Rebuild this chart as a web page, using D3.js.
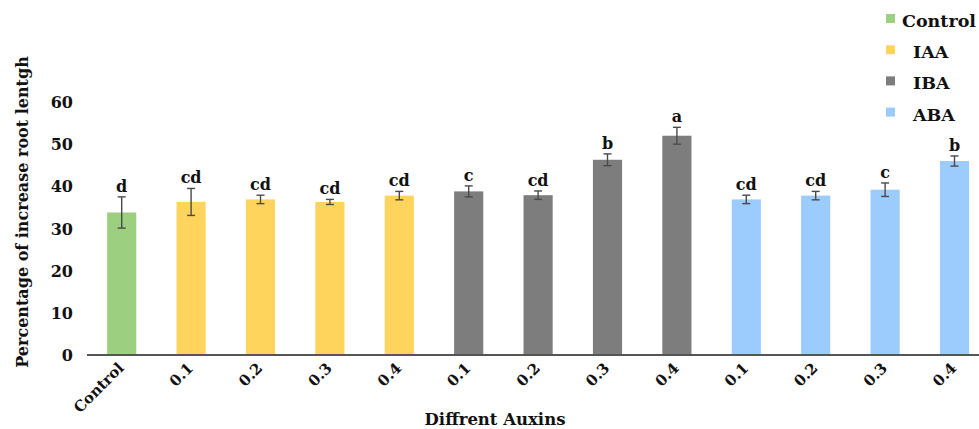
<!DOCTYPE html>
<html>
<head>
<meta charset="utf-8">
<script src="https://cdn.jsdelivr.net/npm/d3@7"></script>
<style>
  html, body { margin: 0; padding: 0; background: #fff; }
  svg { display: block; }
</style>
</head>
<body>
<svg id="chart" width="979" height="429"></svg>
<script>
// Treatments along the x axis
const tickLabels = ["Control", "0.1", "0.2", "0.3", "0.4", "0.1", "0.2", "0.3", "0.4", "0.1", "0.2", "0.3", "0.4"];
const groups     = ["Control", "IAA", "IAA", "IAA", "IAA", "IBA", "IBA", "IBA", "IBA", "ABA", "ABA", "ABA", "ABA"];
// Mean percentage increase of root length and its error
const values     = [33.8, 36.3, 36.9, 36.3, 37.8, 38.8, 37.9, 46.3, 52.0, 36.9, 37.8, 39.2, 46.0];
const errors     = [3.7, 3.2, 1.0, 0.6, 1.0, 1.3, 1.0, 1.4, 2.0, 1.0, 1.0, 1.6, 1.2];
// Significance letters
const letters    = ["d", "cd", "cd", "cd", "cd", "c", "cd", "b", "a", "cd", "cd", "c", "b"];
// Legend series
const seriesNames = ["Control", "IAA", "IBA", "ABA"];
const seriesColors = ["#9ccf80", "#ffd45c", "#7d7d7d", "#9ccbfd"];
// Y axis ticks
const yTicks = [0, 10, 20, 30, 40, 50, 60];

const FONT = "'DejaVu Serif', 'Liberation Serif', serif";

const svg = d3.select("#chart");
const x0 = 87, baseY = 355, topY = 102;

const idx = d3.range(values.length);
const x = d3.scaleBand().domain(idx).range([x0, x0 + 69.4 * values.length]).paddingInner(0.58).paddingOuter(0.29);
const y = d3.scaleLinear().domain([0, 60]).range([baseY, topY]);
const color = d3.scaleOrdinal().domain(seriesNames).range(seriesColors);

function label(sel, size) {
  return sel.attr("font-family", FONT).style("font-family", FONT)
    .attr("font-weight", "bold").style("font-size", size + "px").attr("fill", "#111");
}

// Bars
svg.append("g").selectAll("rect").data(idx).join("rect")
  .attr("x", i => x(i))
  .attr("y", i => y(values[i]))
  .attr("width", x.bandwidth())
  .attr("height", i => y(0) - y(values[i]))
  .attr("fill", i => color(groups[i]));

// Error bars
const eb = svg.append("g").attr("stroke", "#4a4a4a").attr("stroke-width", 1.4).attr("fill", "none");
idx.forEach(i => {
  const cx = x(i) + x.bandwidth() / 2;
  const yt = y(values[i] + errors[i]), yb = y(values[i] - errors[i]);
  eb.append("line").attr("x1", cx).attr("x2", cx).attr("y1", yt).attr("y2", yb);
  eb.append("line").attr("x1", cx - 4).attr("x2", cx + 4).attr("y1", yt).attr("y2", yt);
  eb.append("line").attr("x1", cx - 4).attr("x2", cx + 4).attr("y1", yb).attr("y2", yb);
});

// Letters above error bars
label(svg.append("g").selectAll("text").data(idx).join("text")
  .attr("x", i => x(i) + x.bandwidth() / 2)
  .attr("y", i => y(values[i] + errors[i]) - 5)
  .attr("text-anchor", "middle"), 16)
  .text(i => letters[i]);

// X axis line
svg.append("line")
  .attr("x1", x0).attr("x2", 979).attr("y1", baseY).attr("y2", baseY)
  .attr("stroke", "#555").attr("stroke-width", 2);

// Y tick labels (no axis line)
const yAxis = d3.axisLeft(y).tickValues(yTicks).tickSize(0).tickPadding(0);
const gy = svg.append("g").attr("transform", "translate(73,0)").call(yAxis);
gy.select(".domain").remove();
gy.attr("font-family", null);
label(gy.selectAll("text"), 16).attr("dy", "0.35em");

// X tick labels, rotated
label(svg.append("g").selectAll("text").data(idx).join("text")
  .attr("transform", i => `translate(${x(i) + x.bandwidth() / 2 + 3},${baseY + 14}) rotate(-45)`)
  .attr("text-anchor", "end"), 15)
  .text(i => tickLabels[i]);

// Axis titles
label(svg.append("text")
  .attr("x", 495).attr("y", 425)
  .attr("text-anchor", "middle"), 16.5)
  .text("Diffrent Auxins");

label(svg.append("text")
  .attr("transform", "translate(28,212) rotate(-90)")
  .attr("text-anchor", "middle"), 16)
  .text("Percentage of increase root lentgh");

// Legend
const lg = svg.append("g");
const legendTextX = [902, 913, 913, 913];
seriesNames.forEach((s, k) => {
  const by = 27 + k * 31.2;
  lg.append("rect").attr("x", 886).attr("y", by - 13).attr("width", 9).attr("height", 9).attr("fill", color(s));
  label(lg.append("text").attr("x", legendTextX[k]).attr("y", by), 17.5).text(s);
});
</script>
</body>
</html>
